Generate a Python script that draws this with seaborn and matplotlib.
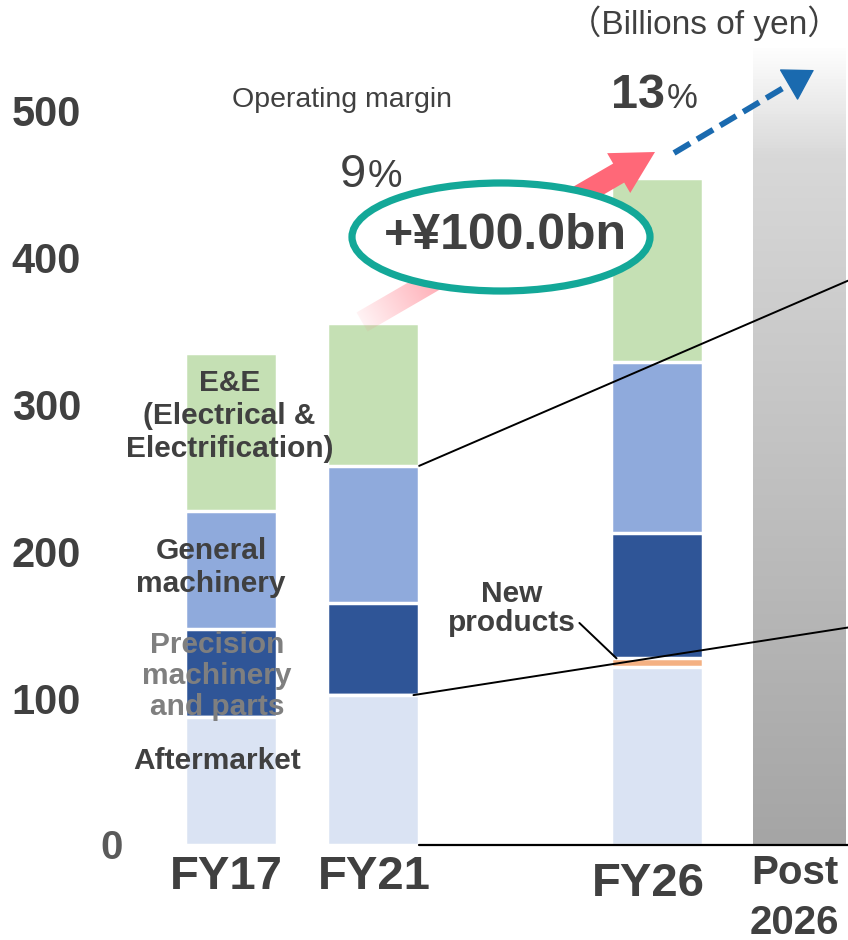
import numpy as np
import pandas as pd
import matplotlib
matplotlib.use("Agg")
import matplotlib.pyplot as plt
import seaborn as sns
from matplotlib.patches import Ellipse, Polygon
from matplotlib.colors import LinearSegmentedColormap, to_rgb

sns.set_theme(style="white")
plt.rcParams['font.family'] = ['Liberation Sans', 'Noto Sans CJK JP', 'DejaVu Sans']

# ---- data (billions of yen) ----
years = ["FY17", "FY21", "FY26"]
aftermarket = [87, 102, 121]
new_products = [0, 0, 6]
precision = [60, 63, 85]
general = [80, 93, 117]
ee = [108, 97, 125]
post_label = "Post\n2026"
post_value = [544]

y_ticks = [100, 200, 300, 400, 500]
margin_fy21 = "9"
margin_fy26 = "13"
increase_label = "+¥100.0bn"

segments = ["Aftermarket", "New products", "Precision", "General", "E&E"]
seg_values = [aftermarket, new_products, precision, general, ee]
seg_colors = {"Aftermarket": "#dae3f3", "New products": "#f4b183",
              "Precision": "#2f5597", "General": "#8faadc", "E&E": "#c5e0b4"}
order = ["FY17", "FY21", "", "FY26", post_label]

rows = []
cum = np.zeros(len(years))
for seg, vals in zip(segments, seg_values):
    cum = cum + np.array(vals)
    for yr, v, c in zip(years, vals, cum):
        rows.append({"year": yr, "segment": seg, "value": v, "cum": c})
df = pd.DataFrame(rows)
post_df = pd.DataFrame({"year": [post_label], "value": post_value})

DARK = "#404040"
W = 0.65

fig = plt.figure(figsize=(8.48, 9.40), dpi=100)
ax = fig.add_axes([100 / 848, 95 / 940, 748 / 848, 845 / 940])

# stacked bars drawn as overlapping cumulative bars, top layer first
for seg in segments[::-1]:
    sub = df[df["segment"] == seg]
    sns.barplot(data=sub, x="year", y="cum", order=order, color=seg_colors[seg],
                saturation=1, width=W, edgecolor="white", linewidth=2.5,
                errorbar=None, ax=ax)

# post-2026 bar with a grey gradient
sns.barplot(data=post_df, x="year", y="value", order=order, color="#a6a6a6",
            saturation=1, width=W, linewidth=0, errorbar=None, ax=ax)
pbar = ax.patches[-1]
px0, pw, ph = pbar.get_x(), pbar.get_width(), pbar.get_height()
pbar.set_facecolor("none")
grey = LinearSegmentedColormap.from_list(
    "grey", [(0, "#a5a5a5"), (0.86, "#d8d8d8"), (1.0, "#ffffff")])
grad = np.linspace(0, 1, 256).reshape(-1, 1)
im = ax.imshow(grad, extent=[px0, px0 + pw, 0, ph], origin="lower", cmap=grey,
               aspect="auto", zorder=pbar.get_zorder())
im.set_clip_path(pbar)

ax.set_xlim(-0.9225, 4.345)
ax.set_ylim(0, 575)
sns.despine(ax=ax, left=True, bottom=True)
ax.set_xlabel("")
ax.set_ylabel("")
ax.set_xticks([])
ax.set_yticks(y_ticks)
ax.set_yticklabels([str(t) for t in y_ticks], fontsize=30, fontweight="bold", color=DARK)
ax.tick_params(axis="y", pad=7.5, left=False)
ax.text(-0.84, -2, "0", fontsize=29, fontweight="bold", color="#5a5a5a",
        ha="center", va="center", clip_on=False)

# x labels
xt = ax.get_xaxis_transform()
for lbl, dx, yf, fs in [("FY17", -0.03, -0.038, 34), ("FY21", 0.01, -0.038, 34),
                        ("FY26", -0.06, -0.046, 34)]:
    ax.text(order.index(lbl) + dx, yf, lbl, transform=xt, ha="center", va="center",
            fontsize=fs, fontweight="bold", color=DARK, clip_on=False)
ax.text(order.index(post_label) - 0.03, -0.0625, post_label, transform=xt, ha="center",
        va="center", fontsize=29, fontweight="bold", color=DARK, linespacing=1.38,
        clip_on=False)

# segment labels on FY17
lab_kw = dict(ha="center", va="center", fontsize=21.5, fontweight="bold",
              linespacing=1.22, color=DARK)
ax.text(-0.01, 292, "E&E\n(Electrical &\nElectrification)", **lab_kw)
ax.text(-0.14, 189, "General\nmachinery", **lab_kw)
ax.text(-0.1, 115, "Precision\nmachinery\nand parts",
        **{**lab_kw, "color": "#7f7f7f", "linespacing": 1.15})
ax.text(-0.1, 57, "Aftermarket", **lab_kw)

# connector lines from FY21 to the (cropped) breakdown on the right
fy21 = order.index("FY21")
c21 = np.cumsum([aftermarket[1], new_products[1], precision[1], general[1]])
ax.plot([fy21 + W / 2, 4.345], [c21[3], 384], color="black", lw=1.4, clip_on=False, zorder=5)
ax.plot([fy21 + W / 2 - 0.04, 4.345], [aftermarket[1], 148], color="black", lw=1.4,
        clip_on=False, zorder=5)
ax.plot([fy21 + W / 2, 4.345], [0, 0], color="black", lw=1.6, clip_on=False, zorder=5)

# new products callout
fy26 = order.index("FY26")
ax.annotate("New\nproducts", xy=(fy26 - W / 2 + 0.04, aftermarket[2] + new_products[2]),
            xytext=(1.98, 161), ha="center", va="center", fontsize=21.5,
            fontweight="bold", color=DARK, linespacing=1.05,
            arrowprops=dict(arrowstyle="-", color="black", lw=1.4,
                            shrinkA=0, shrinkB=0, relpos=(1.0, 0.3)),
            zorder=6)

# ---- overlay in pixel coordinates for slide decorations ----
ov = fig.add_axes([0, 0, 1, 1])
ov.set_facecolor("none")
ov.axis("off")

# pink gradient arrow
tail = np.array([362.0, 322.0])
tip = np.array([655.0, 152.0])
L = np.linalg.norm(tip - tail)
u = (tip - tail) / L
n = np.array([-u[1], u[0]])
neck = tip - 42 * u
pts = [tail + 11 * n, neck + 11 * n, neck + 23 * n, tip, neck - 23 * n, neck - 11 * n,
       tail - 11 * n]
poly = Polygon(pts, closed=True, facecolor="none", edgecolor="none",
               transform=ov.transData)
ov.add_patch(poly)
xmin, xmax, ymin, ymax = 330, 690, 120, 350
X, Y = np.meshgrid(np.arange(xmin, xmax), np.arange(ymin, ymax))
t = ((X - tail[0]) * u[0] + (Y - tail[1]) * u[1]) / L
rgba = np.zeros(X.shape + (4,))
rgba[..., :3] = to_rgb("#ff6878")
rgba[..., 3] = np.clip(0.08 + t / 0.55, 0, 1)
pim = ov.imshow(rgba, extent=(xmin, xmax, ymax, ymin), origin="upper", aspect="auto")
pim.set_clip_path(poly)

# blue dashed arrow
ov.plot([674, 800], [153, 78], color="#1a6aaf", lw=4.2, dashes=(3.2, 1.4),
        solid_capstyle="butt")
ov.annotate("", xy=(814, 70), xytext=(796, 80.5),
            arrowprops=dict(arrowstyle="-|>,head_length=0.9,head_width=0.55",
                            color="#1a6aaf", lw=1, mutation_scale=22,
                            shrinkA=0, shrinkB=0))

# ellipse with increase
ov.add_patch(Ellipse((501, 237), 298, 108, facecolor="white", edgecolor="#13a898",
                     lw=5.2))
ov.text(505, 236, increase_label, ha="center", va="center", fontsize=36,
        fontweight="bold", color=DARK)

# margins
ov.text(366, 187, margin_fy21, ha="right", va="baseline", fontsize=34, color=DARK)
ov.text(368, 187, "%", ha="left", va="baseline", fontsize=28, color=DARK)
ov.text(665, 108, margin_fy26, ha="right", va="baseline", fontsize=35,
        fontweight="bold", color=DARK)
ov.text(667, 108, "%", ha="left", va="baseline", fontsize=25, color=DARK)
ov.text(232, 107, "Operating margin", ha="left", va="baseline", fontsize=20.5,
        color=DARK)
ov.text(841, 34, "（Billions of yen）", ha="right", va="baseline", fontsize=24,
        color=DARK)

ov.set_xlim(0, 848)
ov.set_ylim(940, 0)

fig.savefig("out.png", dpi=100)
